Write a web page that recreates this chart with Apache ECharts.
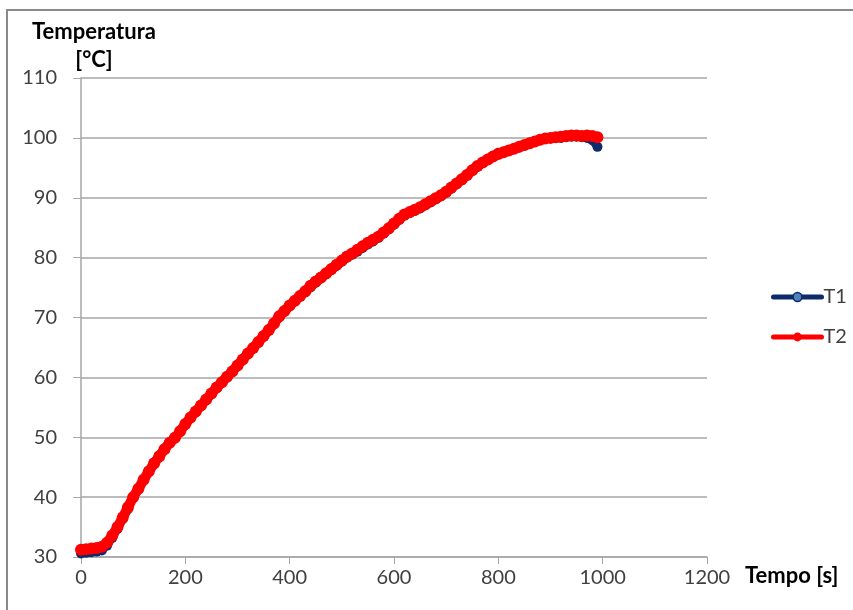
<!DOCTYPE html>
<html>
<head>
<meta charset="utf-8">
<script src="https://cdn.jsdelivr.net/npm/echarts@6/dist/echarts.min.js"></script>
<style>
html,body{margin:0;padding:0;background:#fff;}
#chart{width:853px;height:610px;}
</style>
</head>
<body>
<div id="chart"></div>
<script>
const time = [0,10,20,30,40,50,60,70,80,90,100,110,120,130,140,150,160,170,180,190,200,210,220,230,240,250,260,270,280,290,300,310,320,330,340,350,360,370,380,390,400,410,420,430,440,450,460,470,480,490,500,510,520,530,540,550,560,570,580,590,600,610,620,630,640,650,660,670,680,690,700,710,720,730,740,750,760,770,780,790,800,810,820,830,840,850,860,870,880,890,900,910,920,930,940,950,960,970,980,990];
const t1 = [30.6,30.7,30.8,30.9,31.1,31.9,33.2,34.7,36.3,38.0,39.8,41.3,42.9,44.4,45.8,47.0,48.1,49.1,50.0,51.0,52.1,53.2,54.2,55.2,56.2,57.2,58.2,59.1,60.0,60.9,61.9,62.9,63.9,64.8,65.8,66.8,67.8,68.9,70.0,71.0,71.9,72.7,73.5,74.2,75.0,75.8,76.5,77.2,77.9,78.6,79.3,80.0,80.5,81.0,81.6,82.2,82.7,83.3,84.0,84.7,85.5,86.3,87.0,87.4,87.8,88.2,88.7,89.2,89.7,90.2,90.8,91.5,92.2,92.9,93.7,94.5,95.2,95.9,96.5,97.0,97.5,97.7,97.9,98.2,98.4,98.7,99.0,99.3,99.6,99.8,99.9,100.0,100.0,100.1,100.2,100.2,100.1,100.0,99.6,98.5];
const t2 = [31.2,31.3,31.4,31.5,31.7,32.4,33.6,35.0,36.6,38.3,40.0,41.4,42.9,44.3,45.6,46.8,48.0,49.1,49.9,51.0,52.2,53.3,54.3,55.3,56.3,57.3,58.3,59.2,60.1,61.0,62.0,63.0,64.0,64.9,65.9,66.9,67.9,69.0,70.2,71.1,72.0,72.8,73.6,74.4,75.3,76.0,76.7,77.4,78.1,78.8,79.5,80.2,80.7,81.3,81.9,82.5,83.0,83.5,84.2,84.9,85.7,86.5,87.2,87.6,88.0,88.4,88.9,89.4,89.9,90.4,91.0,91.7,92.4,93.1,93.8,94.6,95.3,95.9,96.4,96.9,97.3,97.6,97.9,98.2,98.5,98.8,99.1,99.4,99.7,99.9,100.0,100.1,100.2,100.3,100.4,100.4,100.3,100.4,100.3,100.1];
const xTicks = {min:0, max:1200, interval:200};
const yTicks = {min:30, max:110, interval:10};
const seriesNames = ['T1','T2'];
const yTitle = 'Temperatura\n[°C]';
const xTitle = 'Tempo [s]';

const FONT = 'Lato';
const chart = echarts.init(document.getElementById('chart'), null, {renderer:'canvas'});
const pair = (arr) => time.map((t,i)=>[t, arr[i]]);
chart.setOption({
  animation:false,
  backgroundColor:'#ffffff',
  textStyle:{fontFamily:FONT},
  grid:{left:81, top:78, right:146, bottom:53, containLabel:false},
  graphic:[
    {type:'rect', shape:{x:7, y:10, width:900, height:700}, style:{fill:'none', stroke:'#8a8a8a', lineWidth:2}, silent:true, z:-1},
    {type:'text', x:94, y:18, style:{text:yTitle, fill:'#000', font:'bold 22px ' + FONT, textAlign:'center', lineHeight:28}},
    {type:'text', x:745, y:565, style:{text:xTitle, fill:'#000', font:'bold 22px ' + FONT, textAlign:'left'}}
  ],
  legend:{
    orient:'vertical', left:766, top:282, itemWidth:48, itemHeight:11, itemGap:20,
    textStyle:{fontSize:20, color:'#404040', fontFamily:FONT, padding:[0,0,0,-3]},
    lineStyle:{width:5, cap:'round'},
    data:[
      {name:seriesNames[0], itemStyle:{color:'#4f81bd', borderColor:'#0d2b6b', borderWidth:1.5}},
      {name:seriesNames[1]}
    ]
  },
  xAxis:{
    type:'value', min:xTicks.min, max:xTicks.max, interval:xTicks.interval,
    axisLine:{show:true, lineStyle:{color:'#a6a6a6', width:1.5}},
    axisTick:{show:true, length:7, lineStyle:{color:'#a6a6a6'}},
    axisLabel:{fontSize:20, color:'#404040', margin:11, fontFamily:FONT, formatter:(v)=>String(v)},
    splitLine:{show:false}
  },
  yAxis:{
    type:'value', min:yTicks.min, max:yTicks.max, interval:yTicks.interval,
    axisLine:{show:true, onZero:false, lineStyle:{color:'#a6a6a6', width:1.5}},
    axisTick:{show:true, length:8, lineStyle:{color:'#a6a6a6'}},
    axisLabel:{fontSize:20, color:'#404040', margin:24, fontFamily:FONT, formatter:(v)=>String(v)},
    splitLine:{show:true, lineStyle:{color:'#a6a6a6', width:1.5}}
  },
  series:[
    {name:seriesNames[0], type:'line', data:pair(t1), showAllSymbol:true, symbol:'circle', symbolSize:10,
     lineStyle:{color:'#0d2b6b', width:8}, itemStyle:{color:'#0d2b6b', borderColor:'#0d2b6b', borderWidth:0}, z:2},
    {name:seriesNames[1], type:'line', data:pair(t2), showAllSymbol:true, symbol:'circle', symbolSize:12,
     lineStyle:{color:'#ff0000', width:10}, itemStyle:{color:'#ff0000', borderColor:'#ff0000', borderWidth:0}, z:3}
  ]
});
</script>
</body>
</html>
